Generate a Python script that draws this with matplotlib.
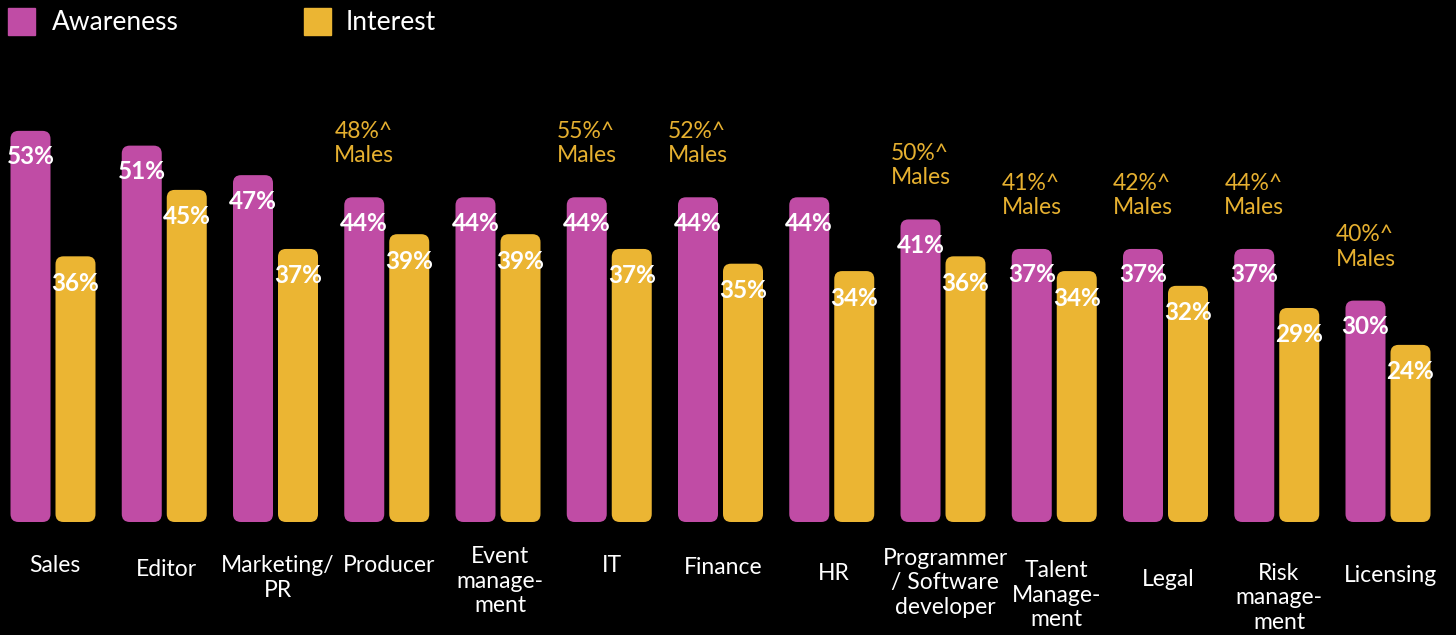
import matplotlib
matplotlib.use("Agg")
import matplotlib.pyplot as plt
from matplotlib.patches import FancyBboxPatch, Rectangle
import numpy as np

categories = ["Sales", "Editor", "Marketing/\nPR", "Producer", "Event\nmanage-\nment", "IT",
              "Finance", "HR", "Programmer\n/ Software\ndeveloper", "Talent\nManage-\nment",
              "Legal", "Risk\nmanage-\nment", "Licensing"]
awareness = [53, 51, 47, 44, 44, 44, 44, 44, 41, 37, 37, 37, 30]
interest = [36, 45, 37, 39, 39, 37, 35, 34, 36, 34, 32, 29, 24]
males = [None, None, None, "48%^", None, "55%^", "52%^", None, "50%^", "41%^", "42%^", "44%^", "40%^"]

MAG = "#C04CA5"
YEL = "#EBB533"
FONT = "Lato"

# layout (pixels of the 1456x635 canvas)
W, H = 1456, 635
px_group = 111.25
x0_px = 53
base_px = 522
px_per_unit = 7.38
label_center_px = [566, 569, 578, 566, 581, 566, 567, 573, 583, 595, 579, 598, 575]

fig = plt.figure(figsize=(W / 100, H / 100), dpi=100, facecolor="black")
ax = fig.add_axes([0, 0, 1, 1])
ax.set_facecolor("black")
ax.set_xlim(-x0_px / px_group, (W - x0_px) / px_group)
ax.set_ylim(-(H - base_px) / px_per_unit, base_px / px_per_unit)
ax.axis("off")

x = np.arange(len(categories))
bw = 40 / px_group
off = 22.5 / px_group

b1 = ax.bar(x - off, awareness, bw, color=MAG)
b2 = ax.bar(x + off, interest, bw, color=YEL)

# swap plain bars for rounded ones
r = 8 / px_group
aspect = px_group / px_per_unit
for bars in (b1, b2):
    for b in bars:
        xx, yy = b.get_x(), b.get_y()
        w, h = b.get_width(), b.get_height()
        p = FancyBboxPatch((xx, yy), w, h,
                           boxstyle=f"round,pad=0,rounding_size={r}",
                           mutation_aspect=aspect,
                           facecolor=b.get_facecolor(), edgecolor="none")
        ax.add_patch(p)
        b.set_visible(False)

for i in range(len(categories)):
    ax.text(x[i] - off, awareness[i] - 26 / px_per_unit, f"{awareness[i]}%",
            ha="center", va="center", color="white", fontsize=17.5,
            fontweight="bold", family=FONT)
    ax.text(x[i] + off, interest[i] - 27 / px_per_unit, f"{interest[i]}%",
            ha="center", va="center", color="white", fontsize=17.5,
            fontweight="bold", family=FONT)
    ax.text(x[i] + 0.02, (base_px - label_center_px[i]) / px_per_unit, categories[i],
            ha="center", va="center", color="white", fontsize=16.5,
            family=FONT, linespacing=1.2)
    if males[i]:
        ax.text(x[i] - off, awareness[i] + 4.2, males[i] + "\nMales",
                ha="center", va="bottom", multialignment="left",
                color="#E6B030", fontsize=16.5, family=FONT, linespacing=1.2)

# legend
fig.patches.append(Rectangle((8 / W, 1 - 35 / H), 27 / W, 27 / H,
                             transform=fig.transFigure, color=MAG))
fig.patches.append(Rectangle((304 / W, 1 - 35 / H), 27 / W, 27 / H,
                             transform=fig.transFigure, color=YEL))
fig.text(52 / W, 1 - 23 / H, "Awareness", color="white", fontsize=19,
         family=FONT, va="center", ha="left")
fig.text(346 / W, 1 - 23 / H, "Interest", color="white", fontsize=19,
         family=FONT, va="center", ha="left")

fig.savefig("out.png", dpi=100, facecolor="black")
